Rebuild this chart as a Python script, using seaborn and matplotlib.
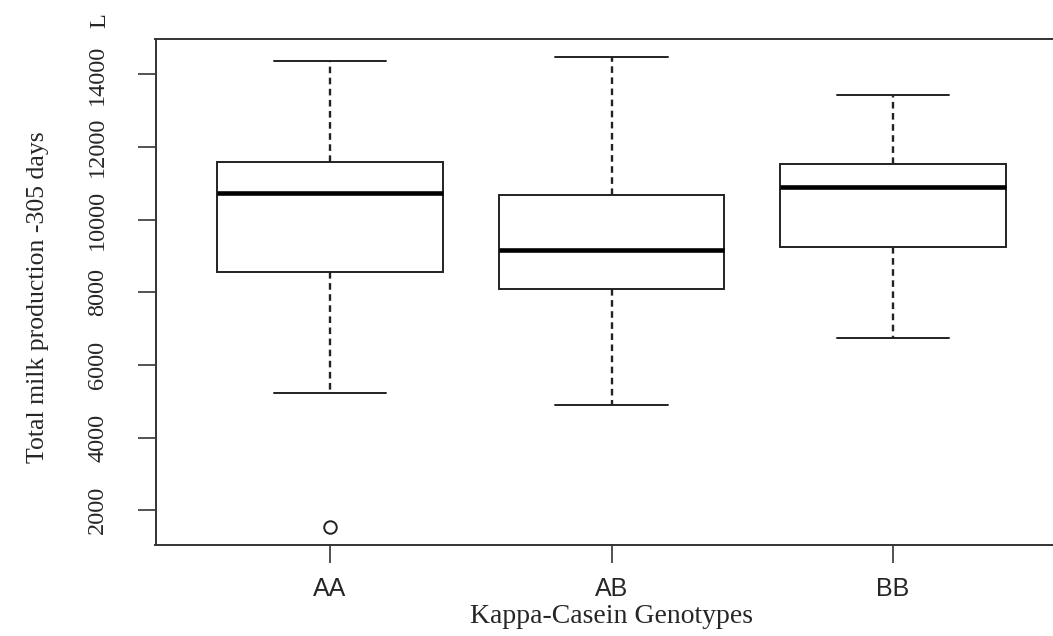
import pandas as pd
import seaborn as sns
import matplotlib
matplotlib.use("Agg")
import matplotlib.pyplot as plt

# Five-number summaries (R-style boxplot)
genotypes = ["AA", "AB", "BB"]
whisker_low = [5220, 4910, 6740]
q1 = [8550, 8095, 9240]
median = [10740, 9160, 10905]
q3 = [11595, 10680, 11530]
whisker_high = [14365, 14485, 13430]
# outliers
outlier_group = ["AA"]
outlier_value = [1550]

# long table: each group gets its five summary points, so the
# computed quartiles/whiskers are exactly those values
rows = []
for i, g in enumerate(genotypes):
    for v in (whisker_low[i], q1[i], median[i], q3[i], whisker_high[i]):
        rows.append({"genotype": g, "milk": v})
df = pd.DataFrame(rows)
out = pd.DataFrame({"genotype": outlier_group, "milk": outlier_value})

sns.set_style("ticks")
plt.rcParams["font.family"] = ["Liberation Serif", "DejaVu Serif"]

fig = plt.figure(figsize=(10.53, 6.36), dpi=100)
ax = fig.add_axes([155.5 / 1053, 1 - 545 / 636, 912 / 1053, 506 / 636])

line_col = "#222222"
sns.boxplot(data=df, x="genotype", y="milk", order=genotypes, ax=ax,
            width=0.8, color="white", linecolor=line_col, linewidth=1.4,
            showfliers=False,
            whiskerprops={"linestyle": (0, (2.8, 1.9)), "linewidth": 1.7},
            medianprops={"color": "black", "linewidth": 3.3},
            capprops={"linewidth": 1.4})
sns.stripplot(data=out, x="genotype", y="milk", order=genotypes, ax=ax,
              jitter=False, color="white", edgecolor=line_col, linewidth=1.4,
              size=9, marker="o")

ax.set_xlim(-0.62, 2.62)
ax.set_ylim(1045, 14975)
ax.set_yticks([2000, 4000, 6000, 8000, 10000, 12000, 14000])

for s in ax.spines.values():
    s.set_color("#333333")
    s.set_linewidth(1.4)

ax.tick_params(axis="both", length=13, width=1.3, color="#444444")
ax.tick_params(axis="y", pad=21, labelsize=17.5)
ax.tick_params(axis="x", pad=10)
for lab in ax.get_yticklabels():
    lab.set_rotation(90)
    lab.set_va("center")
for lab in ax.get_xticklabels():
    lab.set_family(["Liberation Sans", "DejaVu Sans"])
    lab.set_fontsize(18)

ax.set_xlabel("Kappa-Casein Genotypes", fontsize=20)
ax.set_ylabel("Total milk production -305 days", fontsize=18.5)
ax.xaxis.set_label_coords(0.5, -0.117)
ax.yaxis.set_label_coords(-0.117, 0.49)

# unit marker above the y tick labels
fig.text(100 / 1053, 1 - 21 / 636, "L", rotation=90, ha="center", va="center",
         fontsize=17.5)

fig.savefig("out.png", dpi=100)
